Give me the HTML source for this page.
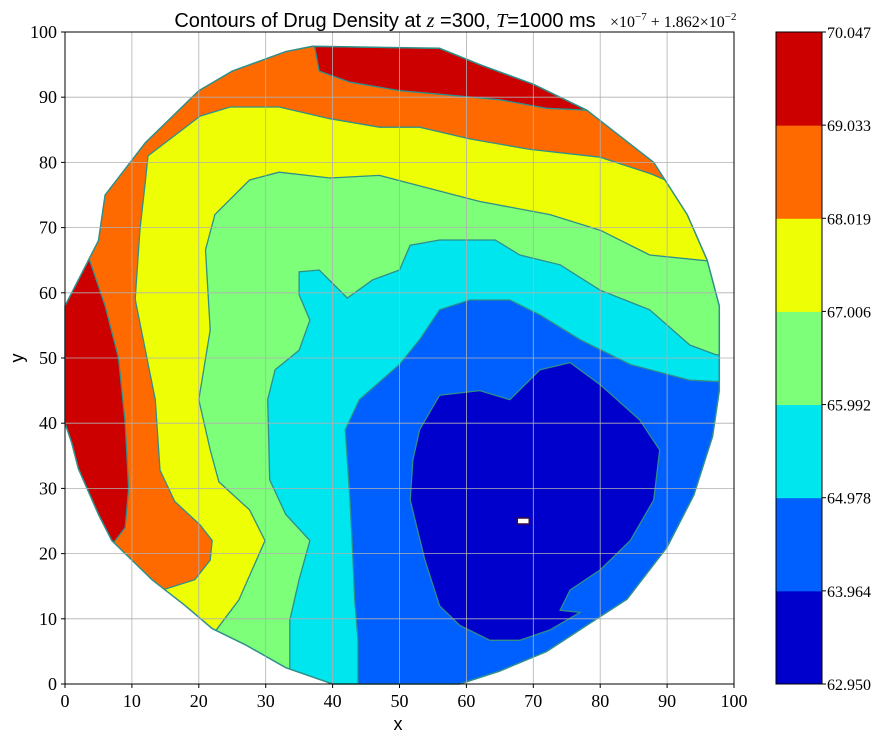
<!DOCTYPE html>
<html><head><meta charset="utf-8">
<style>
html,body{margin:0;padding:0;background:#fff;width:873px;height:740px;overflow:hidden}
svg text{font-family:"Liberation Serif",serif;fill:#000}
</style></head>
<body>
<svg id="chart" width="873" height="740" viewBox="0 0 873 740" xmlns="http://www.w3.org/2000/svg">
<text x="385" y="27" text-anchor="middle" style="font-family:'Liberation Sans',sans-serif;font-size:20px">Contours of Drug Density at <tspan font-family="Liberation Serif" font-style="italic">z</tspan> =300, <tspan font-family="Liberation Serif" font-style="italic">T</tspan>=1000 ms</text>
<text x="610" y="27" style="font-size:16px">×10<tspan dy="-7" font-size="11">−7</tspan><tspan dy="7"> + 1.862×10</tspan><tspan dy="-7" font-size="11">−2</tspan></text>
<g id="plot"></g>
<text x="398" y="730" text-anchor="middle" style="font-family:'Liberation Sans',sans-serif;font-size:18px">x</text>
<text x="23" y="358" text-anchor="middle" transform="rotate(-90 23 358)" style="font-family:'Liberation Sans',sans-serif;font-size:18px">y</text>
</svg>
<script>
const xTicks=[0,10,20,30,40,50,60,70,80,90,100];
const yTicks=[0,10,20,30,40,50,60,70,80,90,100];
const levelLabels=["62.950","63.964","64.978","65.992","67.006","68.019","69.033","70.047"];
const bandColors=["#0000cd","#0060ff","#00e6ef","#7dff7a","#eeff05","#ff6a00","#cd0000"];
const domain=[[0,40],[0,58],[2,62],[5,68],[6,75],[9,79],[12,83],[20,91],[25,94],[33,97],[37,97.8],[56,97.5],[62,95],[70,92],[78,88],[88,80],[93,72],[96,65],[97.8,58],[97.8,45],[96.8,38],[94,29],[90,21],[84,13],[78,9],[72,5],[65,2],[59,0],[40,0],[33,2.5],[27,6],[22,8.5],[18,12],[13,16],[10,19],[7,22],[5,26],[2,33],[1,37]];
const orangeRegion=[[-5,-5],[105,-5],[105,105],[80,105],[78,88],[72,88.3],[65,89.6],[57.5,90.3],[50,91],[42.6,92.3],[38,94],[36,105],[-5,105],[-5,70],[3,67],[4,64],[6,58],[8,50],[9,40],[9.5,30],[9,24],[7.5,22],[5,18],[-5,5]];
const yellowRegion=[[14,-5],[14.5,14.4],[19.4,16],[21.7,19],[22,22],[20.2,24.4],[16.4,28],[14.2,32.8],[13.5,43.6],[10.5,59],[11.2,69.6],[12,77],[12.4,81],[20.2,87.1],[24.7,88.5],[32,88.5],[39.6,86.7],[47,85.4],[53,85.4],[60.5,83.6],[69.5,82],[80,80.8],[87.7,78.2],[92.7,76],[96,71.8],[105,70],[105,-5]];
const greenRegion=[[20,-5],[22.4,8],[26,12.9],[29.9,22],[27.6,26.7],[23,31],[21.7,35.9],[20,43.6],[21.7,54.3],[21,66.6],[22.4,72],[27.6,77.3],[32,78.5],[39.6,77.6],[47,78],[53,76.4],[62,74],[72.5,72],[80,69.6],[87.4,65.8],[95,65],[105,64],[105,-5]];
const cyanRegion=[[33.6,-5],[33.6,2.9],[33.6,9.8],[35,16],[36.6,22],[33,26],[30.6,31.3],[30.3,43.6],[31.4,48.2],[35,51.2],[36.6,55.8],[35,59.7],[35,63.2],[38,63.5],[42.2,59.2],[46,62],[50,63.5],[51.6,67.3],[56,68.1],[64.3,68.1],[68,65.8],[74,64.3],[80,60.4],[87.4,57.4],[93.4,52],[97.3,50.5],[105,50],[105,-5]];
const blueRegion=[[43.8,-5],[43.8,6.7],[43.3,12.9],[43,20],[42.6,28.2],[41.9,39],[44,43.6],[50,49],[53,52.8],[56,57.4],[60.5,58.9],[66.5,58.9],[71,56.6],[77,52.8],[84.5,49],[93.4,46.6],[105,46],[105,-5]];
const darkBlueRegion=[[53,39],[56,44.3],[62,45],[66.5,43.6],[71,48.2],[75.5,49.3],[80,45.9],[85.9,40.5],[88.9,35.9],[88,28.2],[84.5,22],[80,17.5],[75.5,14.4],[74,11.3],[77,11],[72.5,8.3],[68,6.7],[63.5,6.7],[59,9],[56,12],[53.8,19],[51.6,28.2],[52,34.4]];
const marker=[68.5,25];

const NS="http://www.w3.org/2000/svg";
const X0=65,X1=734,Y0=684,Y1=32;
const X=v=>X0+(v/100)*(X1-X0);
const Y=v=>Y0-(v/100)*(Y0-Y1);
const g=document.getElementById('plot');
function mk(t,a,p){const e=document.createElementNS(NS,t);for(const k in a)e.setAttribute(k,a[k]);(p||g).appendChild(e);return e;}
const pts=arr=>arr.map(p=>X(p[0]).toFixed(1)+','+Y(p[1]).toFixed(1)).join(' ');

const defs=mk('defs',{});
const cp=mk('clipPath',{id:'dom'},defs);
mk('polygon',{points:pts(domain)},cp);
const cg=mk('g',{'clip-path':'url(#dom)'});
const layers=[[domain,bandColors[6],'region-red'],[orangeRegion,bandColors[5],'region-orange'],[yellowRegion,bandColors[4],'region-yellow'],[greenRegion,bandColors[3],'region-green'],[cyanRegion,bandColors[2],'region-cyan'],[blueRegion,bandColors[1],'region-blue'],[darkBlueRegion,bandColors[0],'region-dark-blue']];
layers.forEach(L=>{
  const p=mk('polygon',{points:pts(L[0]),fill:L[1],stroke:'#2f8f8a','stroke-width':1.3},cg);
  
  
});
const db=mk('polygon',{points:pts(domain),fill:'none',stroke:'#2f8f8a','stroke-width':1.5});


const mr=mk('rect',{x:X(marker[0])-6,y:Y(marker[1])-3,width:12,height:6,fill:'#fff',stroke:'#3a0a3a','stroke-width':1.5});



xTicks.forEach(t=>{
  const l=mk('line',{x1:X(t),x2:X(t),y1:Y1,y2:Y0,stroke:'#b0b0b0','stroke-width':0.8});
  
  
  mk('line',{x1:X(t),x2:X(t),y1:Y0,y2:Y0+4,stroke:'#000'});
  const tx=mk('text',{x:X(t),y:Y0+23,'text-anchor':'middle','font-size':18});
  tx.textContent=t;
  
  
});
yTicks.forEach(t=>{
  const l=mk('line',{x1:X0,x2:X1,y1:Y(t),y2:Y(t),stroke:'#b0b0b0','stroke-width':0.8});
  
  
  mk('line',{x1:X0-4,x2:X0,y1:Y(t),y2:Y(t),stroke:'#000'});
  const tx=mk('text',{x:X0-8,y:Y(t)+6,'text-anchor':'end','font-size':18});
  tx.textContent=t;
  
  
});
const fr=mk('rect',{x:X0,y:Y1,width:X1-X0,height:Y0-Y1,fill:'none',stroke:'#000','stroke-width':1});



const CX=776,CW=46,n=bandColors.length,bh=(Y0-Y1)/n;
bandColors.forEach((c,i)=>{
  const r=mk('rect',{x:CX,y:Y0-(i+1)*bh,width:CW,height:bh+0.5,fill:c});
  
  
});
mk('rect',{x:CX,y:Y1,width:CW,height:Y0-Y1,fill:'none',stroke:'#000','stroke-width':1});
levelLabels.forEach((s,i)=>{
  const y=Y0-i*bh;
  mk('line',{x1:CX+CW,x2:CX+CW+4,y1:y,y2:y,stroke:'#000'});
  const tx=mk('text',{x:CX+CW+5,y:y+6,'font-size':16});
  tx.textContent=s;
  
  
});
</script>
</body></html>
